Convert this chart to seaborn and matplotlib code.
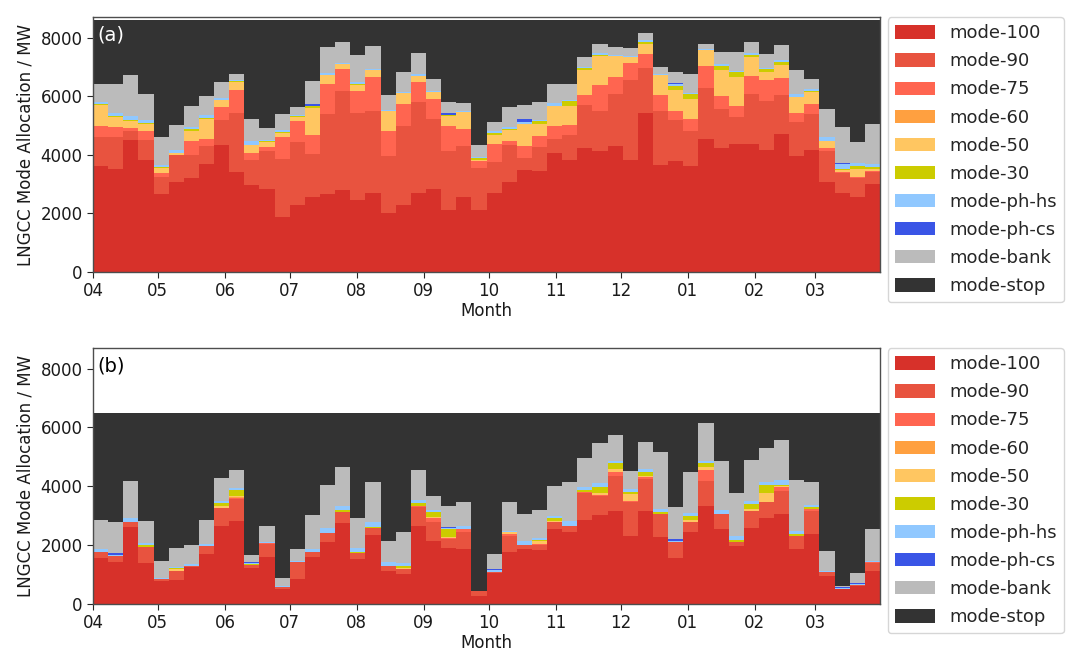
import numpy as np
import pandas as pd
import matplotlib
matplotlib.use("Agg")
import matplotlib.pyplot as plt
import matplotlib.dates as mdates
import seaborn as sns

sns.set_style("ticks")
plt.rcParams['font.family'] = ['DejaVu Sans']

# ---------------- data ----------------
week_start = "2018-04-01"
n_weeks = 52
mode_labels = ["mode-100", "mode-90", "mode-75", "mode-60", "mode-50", "mode-30",
               "mode-ph-hs", "mode-ph-cs", "mode-bank", "mode-stop"]
mode_colors = ["#d7312a", "#e8533f", "#ff6550", "#ffa040", "#ffc661", "#cccc00",
               "#90c8ff", "#3a55e6", "#bbbbbb", "#333333"]

# panel (a)
a_m100 = [3620, 3510, 4500, 3820, 2660, 3055, 3200, 3690, 4340, 3410, 2975, 2825, 1890, 2290, 2575, 2655, 2805, 2440, 2690, 2005, 2290, 2690, 2825, 2120, 2575, 2120,
          2690, 3055, 3490, 3455, 4060, 3820, 4230, 4115, 4310, 3830, 5425, 3660, 3775, 3625, 4550, 4230, 4375, 4375, 4170, 4710, 3945, 4170, 3055, 2690, 2575, 3010]
a_m90 = [980, 1100, 300, 700, 580, 925, 780, 615, 845, 2005, 835, 1310, 1975, 2135, 1450, 2735, 3365, 2985, 2815, 1960, 2705, 3115, 2405, 2020, 1735, 1425,
         1050, 1290, 400, 800, 480, 845, 1460, 1370, 1765, 2715, 1540, 1825, 1425, 1175, 1730, 1335, 905, 1700, 1680, 1320, 1160, 1220, 1060, 685, 630, 400]
a_m75 = [390, 340, 110, 300, 135, 20, 500, 230, 435, 810, 250, 140, 730, 715, 640, 1040, 740, 740, 1140, 855, 740, 685, 685, 855, 570, 230,
         625, 115, 400, 400, 430, 365, 365, 910, 570, 590, 480, 570, 310, 420, 765, 430, 375, 605, 685, 590, 320, 340, 115, 35, 35, 25]
a_m60 = [0, 0, 0, 0, 0, 0, 0, 0, 0, 0, 0, 0, 0, 0, 0, 0, 0, 0, 0, 0, 0, 0, 0, 0, 0, 0,
         0, 0, 0, 0, 0, 0, 0, 0, 0, 0, 0, 0, 0, 0, 0, 0, 0, 0, 0, 0, 0, 0, 0, 0, 0, 0]
a_m50 = [700, 340, 250, 230, 170, 45, 340, 685, 240, 265, 260, 160, 150, 160, 935, 275, 195, 230, 230, 660, 375, 205, 215, 340, 580, 55,
         300, 375, 775, 410, 685, 650, 830, 990, 740, 195, 320, 650, 685, 695, 515, 890, 990, 650, 295, 455, 535, 410, 230, 55, 285, 90]
a_m30 = [45, 35, 35, 35, 25, 25, 70, 45, 25, 20, 25, 45, 35, 10, 55, 10, 0, 20, 0, 0, 0, 0, 0, 10, 0, 55,
         80, 45, 0, 70, 25, 145, 80, 35, 0, 0, 80, 25, 160, 160, 30, 160, 170, 90, 100, 80, 25, 45, 25, 55, 80, 45]
a_phhs = [55, 90, 140, 100, 70, 90, 55, 80, 65, 45, 115, 20, 55, 60, 25, 80, 25, 60, 55, 35, 35, 45, 35, 15, 45, 35,
          55, 55, 55, 55, 90, 55, 35, 35, 35, 55, 65, 30, 45, 35, 25, 35, 35, 35, 35, 70, 90, 70, 125, 170, 115, 115]
a_phcs = [0, 0, 0, 0, 0, 0, 0, 0, 0, 0, 0, 0, 0, 0, 55, 0, 0, 0, 0, 0, 0, 0, 0, 55, 0, 0,
          0, 0, 90, 0, 0, 0, 0, 0, 0, 0, 0, 0, 50, 0, 0, 0, 0, 0, 0, 0, 0, 0, 0, 45, 0, 0]
a_bank = [640, 1015, 1400, 890, 955, 865, 710, 650, 535, 205, 760, 415, 560, 250, 775, 890, 715, 925, 775, 515, 685, 740, 435, 375, 265, 420,
          320, 685, 500, 615, 660, 550, 330, 330, 265, 265, 250, 240, 380, 650, 150, 435, 660, 390, 480, 535, 800, 335, 935, 1200, 705, 1375]
a_stop = [2170, 2170, 1865, 2525, 4005, 3575, 2945, 2605, 2115, 1840, 3380, 3685, 3205, 2980, 2090, 915, 755, 1200, 895, 2570, 1770, 1120, 2000, 2810, 2830, 4260,
          3480, 2980, 2890, 2795, 2170, 2170, 1270, 815, 915, 950, 440, 1600, 1770, 1840, 835, 1085, 1090, 755, 1155, 840, 1725, 2010, 3060, 3665, 4175, 3540]

# panel (b)
b_m100 = [1550, 1415, 2605, 1395, 795, 825, 1245, 1700, 2660, 2810, 1225, 1585, 510, 850, 1585, 2095, 2740, 1530, 2345, 1135, 1020, 2660, 2150, 1905, 1870, 285,
          1055, 1780, 1870, 1845, 2550, 2435, 2865, 3035, 3150, 2320, 3170, 2265, 1550, 2460, 3340, 2550, 1980, 2570, 2910, 3060, 1870, 2380, 940, 510, 600, 1135]
b_m90 = [230, 205, 170, 530, 55, 305, 55, 285, 590, 760, 110, 455, 55, 565, 195, 315, 375, 205, 225, 170, 170, 625, 625, 305, 565, 170,
         45, 545, 145, 160, 225, 225, 905, 645, 1210, 1155, 1075, 795, 545, 340, 850, 510, 140, 600, 545, 790, 455, 790, 135, 10, 30, 260]
b_m75 = [0, 0, 0, 0, 0, 0, 0, 0, 0, 30, 0, 25, 0, 0, 0, 0, 0, 0, 0, 0, 0, 30, 135, 30, 115, 0,
         0, 40, 0, 20, 0, 0, 20, 35, 115, 30, 60, 0, 0, 0, 375, 0, 0, 0, 20, 110, 0, 50, 0, 0, 0, 20]
b_m60 = [0, 0, 0, 0, 0, 0, 0, 0, 20, 20, 0, 0, 0, 0, 0, 0, 0, 0, 0, 0, 0, 0, 0, 0, 0, 0,
         0, 0, 0, 0, 0, 0, 0, 0, 0, 0, 0, 0, 0, 0, 0, 0, 0, 0, 0, 0, 0, 0, 0, 0, 0, 0]
b_m50 = [0, 0, 0, 20, 0, 55, 0, 0, 50, 40, 0, 0, 0, 0, 0, 0, 25, 0, 0, 0, 30, 30, 35, 50, 0, 0,
         0, 70, 0, 125, 30, 0, 25, 55, 115, 230, 55, 0, 0, 60, 80, 0, 0, 60, 285, 60, 0, 25, 0, 0, 0, 0]
b_m30 = [0, 0, 0, 60, 0, 25, 0, 0, 110, 215, 25, 0, 0, 0, 0, 0, 55, 25, 30, 0, 80, 90, 195, 260, 0, 0,
         0, 0, 0, 30, 105, 0, 55, 195, 200, 80, 115, 50, 0, 140, 135, 0, 50, 170, 295, 35, 55, 40, 0, 0, 0, 0]
b_phhs = [90, 45, 145, 65, 35, 35, 55, 55, 80, 80, 35, 55, 35, 45, 90, 160, 145, 135, 175, 110, 80, 110, 55, 20, 110, 0,
          50, 55, 125, 75, 90, 160, 90, 145, 70, 90, 115, 120, 55, 90, 90, 145, 150, 90, 80, 160, 110, 80, 60, 35, 40, 60]
b_phcs = [0, 70, 0, 0, 0, 0, 0, 0, 0, 0, 20, 0, 0, 0, 0, 0, 0, 0, 0, 0, 0, 0, 0, 35, 0, 0,
          40, 0, 0, 0, 0, 0, 0, 0, 0, 0, 0, 0, 55, 0, 0, 0, 0, 0, 0, 0, 0, 0, 0, 35, 45, 0]
b_bank = [995, 1040, 1270, 740, 565, 645, 660, 815, 760, 600, 250, 540, 270, 410, 1155, 1485, 1325, 1015, 1360, 725, 1080, 1010, 465, 735, 795, 0,
          510, 965, 920, 950, 1020, 1315, 1000, 1350, 885, 625, 905, 1945, 1080, 1405, 1270, 1640, 1450, 1415, 1165, 1370, 1735, 770, 675, 35, 340, 1075]
b_stop = [3635, 3725, 2310, 3690, 5050, 4610, 4485, 3645, 2230, 1945, 4835, 3840, 5630, 4630, 3475, 2445, 1835, 3590, 2365, 4360, 4040, 1945, 2840, 3160, 3045, 6045,
          4800, 3045, 3440, 3295, 2480, 2365, 1540, 1040, 755, 1970, 1005, 1325, 3215, 2005, 360, 1655, 2730, 1595, 1200, 915, 2275, 2365, 4690, 5875, 5445, 3950]

panel_a = [a_m100, a_m90, a_m75, a_m60, a_m50, a_m30, a_phhs, a_phcs, a_bank, a_stop]
panel_b = [b_m100, b_m90, b_m75, b_m60, b_m50, b_m30, b_phhs, b_phcs, b_bank, b_stop]

# ---------------- figure ----------------
W, H = 1071, 655
fig = plt.figure(figsize=(W / 100, H / 100), dpi=100)

week_dates = pd.date_range(week_start, periods=n_weeks + 1, freq="7D")
x = mdates.date2num(week_dates.to_pydatetime())

def draw(ax, series, tag, tag_color):
    ys = [np.append(np.asarray(s, float), s[-1]) for s in series]
    ax.stackplot(x, *ys, step="post", colors=mode_colors, labels=mode_labels,
                 linewidth=0, antialiased=True)
    ax.set_xlim(x[0], x[-1])
    ax.set_ylim(0, 8700)
    ax.set_yticks([0, 2000, 4000, 6000, 8000])
    ax.xaxis.set_major_locator(mdates.MonthLocator())
    ax.xaxis.set_major_formatter(mdates.DateFormatter("%m"))
    ax.tick_params(labelsize=12, length=4, labelcolor="0.1")
    ax.set_xlabel("Month", fontsize=12, labelpad=1, color="0.1")
    ax.set_ylabel("LNGCC Mode Allocation / MW", fontsize=12, color="0.1")
    for sp in ax.spines.values():
        sp.set_color("0.3")
        sp.set_linewidth(1.0)
    ax.text(0.005, 0.965, tag, transform=ax.transAxes, color=tag_color,
            fontsize=14, va="top", ha="left")
    leg = ax.legend(loc="upper left", bbox_to_anchor=(1.01, 1.0), fontsize=13,
                    frameon=True, borderaxespad=0.0, labelspacing=0.56,
                    borderpad=0.4, handlelength=2.2, handleheight=0.75)
    leg.get_frame().set_edgecolor("0.8")

ax1 = fig.add_axes([93 / W, 1 - 272 / H, (880 - 93) / W, (272 - 17) / H])
draw(ax1, panel_a, "(a)", "white")
ax2 = fig.add_axes([93 / W, 1 - 604 / H, (880 - 93) / W, (604 - 348) / H])
draw(ax2, panel_b, "(b)", "black")

fig.savefig("out.png", dpi=100)
